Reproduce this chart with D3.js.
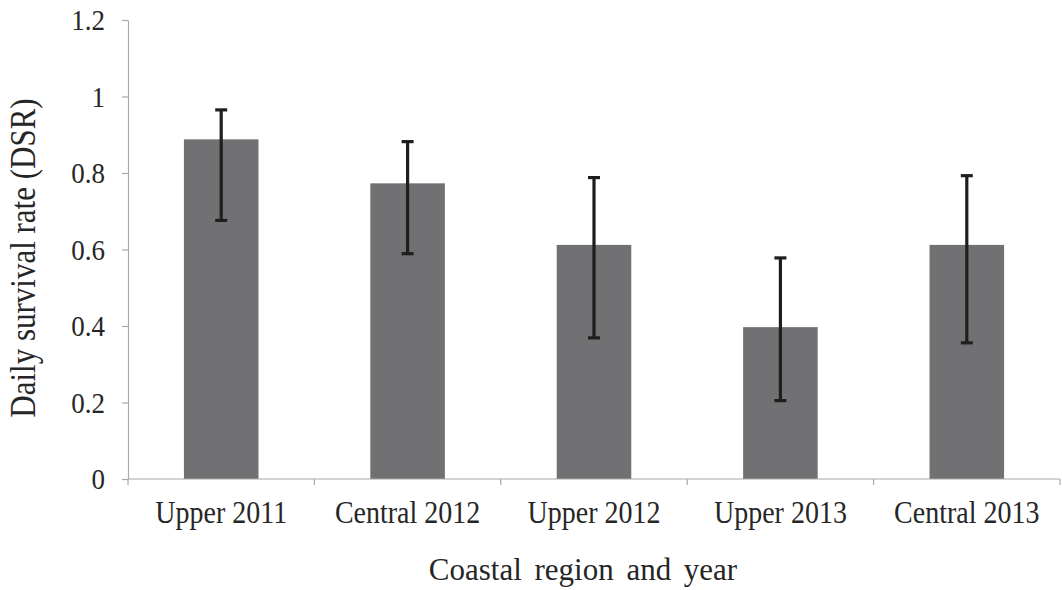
<!DOCTYPE html>
<html>
<head>
<meta charset="utf-8">
<script src="https://cdn.jsdelivr.net/npm/d3@7"></script>
<style>
  html, body { margin: 0; padding: 0; background: #fff; }
  svg { display: block; }
</style>
</head>
<body>
<svg id="chart" width="1062" height="590"></svg>
<script>
const categories = ["Upper 2011", "Central 2012", "Upper 2012", "Upper 2013", "Central 2013"];
const dsr   = [0.888, 0.773, 0.612, 0.397, 0.612];
const lower = [0.676, 0.589, 0.369, 0.205, 0.356];
const upper = [0.965, 0.882, 0.788, 0.578, 0.793];
const yTicks = [0, 0.2, 0.4, 0.6, 0.8, 1, 1.2];
const yTitle = "Daily survival rate (DSR)";
const xTitle = "Coastal region and year";

(function () {
const svg = d3.select("#chart");
const mLeft = 128, mRight = 1060, mTop = 20, mBottom = 479;

const x = d3.scaleBand().domain(categories).range([mLeft, mRight]).paddingInner(0.6).paddingOuter(0.3);
const xBound = d3.scaleBand().domain(categories).range([mLeft, mRight]);
const y = d3.scaleLinear().domain([0, 1.2]).range([mBottom, mTop]);

const textColor = "#262626";
const axisColor = "#a8a8a8";
const font = "'Liberation Serif', 'Times New Roman', serif";

// Bars
svg.append("g").selectAll("rect").data(categories).join("rect")
  .attr("x", d => x(d))
  .attr("width", x.bandwidth())
  .attr("y", (d, i) => y(dsr[i]))
  .attr("height", (d, i) => y(0) - y(dsr[i]))
  .attr("fill", "#717173");

// Y axis
const yAxis = svg.append("g").attr("transform", `translate(${mLeft},0)`)
  .call(d3.axisLeft(y).tickValues(yTicks).tickSize(6).tickSizeOuter(0)
    .tickFormat(d => d3.format("~g")(d)));
yAxis.select(".domain").attr("stroke", axisColor).attr("stroke-width", 1.2);
yAxis.selectAll(".tick line").attr("stroke", axisColor).attr("stroke-width", 1.2);
yAxis.selectAll(".tick text")
  .attr("font-family", font)
  .attr("font-size", 27)
  .attr("fill", textColor)
  .attr("x", -23)
  .attr("dy", "0.34em")
  .attr("transform", "scale(1,1.06)");

// X axis (boundary ticks)
const xAxisG = svg.append("g").attr("transform", `translate(0,${mBottom})`);
xAxisG.append("line").attr("x1", mLeft).attr("x2", mRight).attr("y1", 0).attr("y2", 0)
  .attr("stroke", axisColor).attr("stroke-width", 1.2);
const bounds = categories.map(c => xBound(c)).concat([mRight]);
xAxisG.selectAll("line.tk").data(bounds).join("line").attr("class", "tk")
  .attr("x1", d => d).attr("x2", d => d).attr("y1", 0).attr("y2", 6)
  .attr("stroke", axisColor).attr("stroke-width", 1.2);
xAxisG.selectAll("text").data(categories).join("text")
  .attr("transform", d => `translate(${xBound(d) + xBound.bandwidth() / 2},44) scale(1,1.12)`)
  .attr("text-anchor", "middle")
  .attr("font-family", font)
  .attr("font-size", 28)
  .attr("fill", textColor)
  .text(d => d);

// Error bars
const eb = svg.append("g").attr("stroke", "#1e1e1e").attr("stroke-width", 3.2);
categories.forEach((c, i) => {
  const cx = x(c) + x.bandwidth() / 2;
  eb.append("line").attr("x1", cx).attr("x2", cx).attr("y1", y(lower[i])).attr("y2", y(upper[i]));
  eb.append("line").attr("x1", cx - 6).attr("x2", cx + 6).attr("y1", y(lower[i])).attr("y2", y(lower[i]));
  eb.append("line").attr("x1", cx - 6).attr("x2", cx + 6).attr("y1", y(upper[i])).attr("y2", y(upper[i]));
});

// Titles
svg.append("text")
  .attr("transform", "translate(35,258) scale(1.18,1) rotate(-90)")
  .attr("text-anchor", "middle")
  .attr("font-family", font)
  .attr("font-size", 31)
  .attr("fill", textColor)
  .text(yTitle);

svg.append("text")
  .attr("transform", "translate(583,580) scale(1,1.05)")
  .attr("text-anchor", "middle")
  .attr("font-family", font)
  .attr("font-size", 31)
  .attr("word-spacing", 5)
  .attr("fill", textColor)
  .text(xTitle);
})();
</script>
</body>
</html>
